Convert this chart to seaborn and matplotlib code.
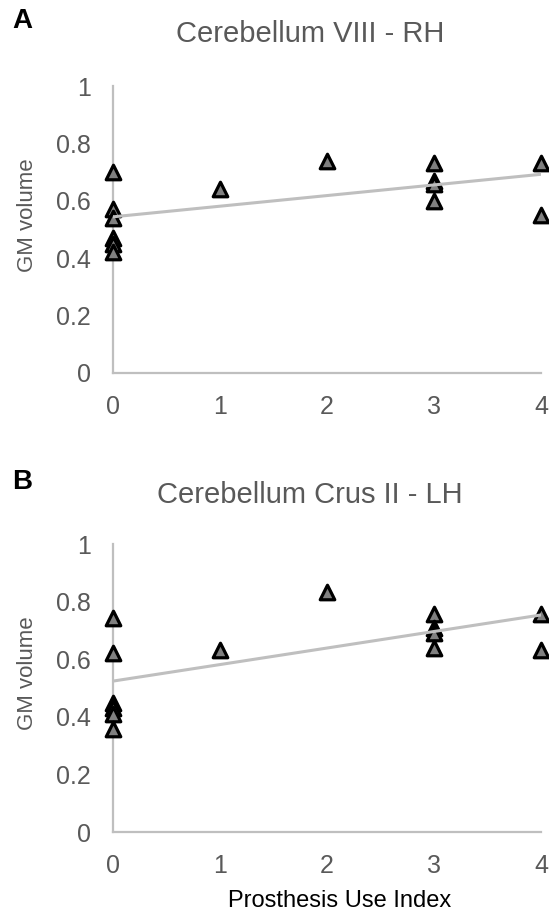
import numpy as np
import pandas as pd
import matplotlib
matplotlib.use("Agg")
import matplotlib.pyplot as plt
import seaborn as sns

# Prosthesis use index per subject (same for both panels)
use_index = [0, 0, 0, 0, 0, 0, 1, 2, 3, 3, 3, 3, 4, 4]

# GM volume, panel A (Cerebellum VIII - RH)
gm_viii_rh = [0.70, 0.57, 0.54, 0.47, 0.45, 0.42, 0.64, 0.74,
              0.73, 0.67, 0.66, 0.60, 0.73, 0.55]
# GM volume, panel B (Cerebellum Crus II - LH)
gm_crus_lh = [0.742, 0.62, 0.447, 0.43, 0.41, 0.356, 0.632, 0.835,
              0.756, 0.71, 0.69, 0.64, 0.756, 0.632]

panel_letters = ["A", "B"]
titles = ["Cerebellum VIII - RH", "Cerebellum Crus II - LH"]
y_ticks = [0, 0.2, 0.4, 0.6, 0.8, 1]
y_tick_labels = ["0", "0.2", "0.4", "0.6", "0.8", "1"]
x_ticks = [0, 1, 2, 3, 4]

df = pd.DataFrame({"use": use_index, "A": gm_viii_rh, "B": gm_crus_lh})

sns.set_style("white")
plt.rcParams["font.family"] = ["Liberation Sans", "DejaVu Sans"]

W, H = 549, 913
fig = plt.figure(figsize=(W / 100, H / 100), dpi=100)

axis_grey = "#BFBFBF"
text_grey = "#595959"

# axes boxes in pixels: (left, top of y=1, right, y=0)
boxes = [(113, 86, 541, 373), (113, 544, 541, 832)]
title_y = [34, 495]

for i, key in enumerate(panel_letters):
    l, t, r, b = boxes[i]
    ax = fig.add_axes([l / W, 1 - b / H, (r - l) / W, (b - t) / H])
    sns.regplot(data=df, x="use", y=key, ax=ax, ci=None, truncate=True,
                marker="^",
                scatter_kws=dict(s=110, color="#808080", edgecolors="black",
                                 linewidths=2.3, alpha=1, zorder=3, clip_on=False),
                line_kws=dict(color=axis_grey, lw=2.2, zorder=4))
    ax.set_xlim(0, 4)
    ax.set_ylim(0, 1)
    ax.set_xticks(x_ticks)
    ax.set_yticks(y_ticks)
    ax.set_yticklabels(y_tick_labels)
    ax.tick_params(axis="both", length=0, labelsize=18, labelcolor=text_grey)
    ax.tick_params(axis="y", pad=16)
    ax.tick_params(axis="x", pad=16)
    for s in ["top", "right"]:
        ax.spines[s].set_visible(False)
    for s in ["left", "bottom"]:
        ax.spines[s].set_color(axis_grey)
        ax.spines[s].set_linewidth(1.6)
    ax.set_ylabel("GM volume", fontsize=16, color=text_grey)
    ax.yaxis.set_label_coords((38 - l) / (r - l), 0.55)
    ax.set_xlabel("")

    fig.text(310 / W, 1 - title_y[i] / H, titles[i], fontsize=21,
             color=text_grey, ha="center", va="center")
    fig.text(12 / W, 1 - (title_y[i] - 13) / H, key, fontsize=20,
             fontweight="bold", color="black", ha="left", va="center")

fig.text(340 / W, 1 - 901 / H, "Prosthesis Use Index", fontsize=17,
         color="black", ha="center", va="center")

fig.savefig("out.png", dpi=100)
